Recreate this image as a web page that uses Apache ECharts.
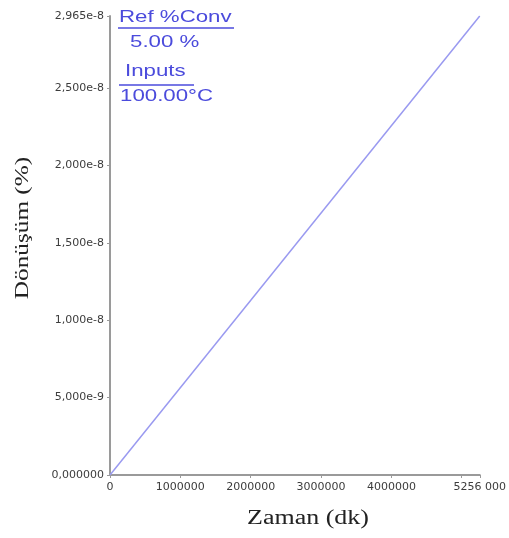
<!DOCTYPE html>
<html>
<head>
<meta charset="utf-8">
<script src="https://cdn.jsdelivr.net/npm/echarts@6/dist/echarts.min.js"></script>
<style>
  html, body { margin: 0; padding: 0; background: #fff; }
  #chart { width: 509px; height: 538px; }
</style>
</head>
<body>
<div id="chart"></div>
<script>
// Conversion vs. time at constant temperature
const timeMin = [0, 5256000];              // Zaman (dk)
const conversion = [0, 2.965e-8];          // Dönüşüm (%)
const xMax = 5256000;
const yMax = 2.965e-8;
const yTickLabels = ['0,000000', '5,000e-9', '1,000e-8', '1,500e-8', '2,000e-8', '2,500e-8'];
const yMaxLabel = '2,965e-8';
const xMaxLabel = '5256 000';
const xTitle = 'Zaman (dk)';
const yTitle = 'Dönüşüm (%)';
const refTitle = 'Ref %Conv';
const refValue = '5.00 %';
const inputTitle = 'Inputs';
const inputValue = '100.00°C';

const chart = echarts.init(document.getElementById('chart'), null, { renderer: 'canvas' });

const axisColor = '#9a9a9a';
const labelColor = '#3c3c3c';
const blue = '#4b4bdc';
const wide = 1.31;   // horizontal stretch of the lettering

function label(text, x, y, size) {
  return {
    type: 'text', x: x, y: y, scaleX: wide,
    style: { text: text, x: 0, y: 0, fontFamily: 'Liberation Sans', fontSize: size, fill: blue, verticalAlign: 'top' }
  };
}

chart.setOption({
  animation: false,
  grid: { left: 110, top: 16, right: 24, bottom: 63, containLabel: false },
  xAxis: {
    type: 'value',
    min: 0, max: xMax, interval: 1000000,
    axisLine: { show: true, lineStyle: { color: axisColor, width: 2 } },
    axisTick: { show: true, length: 3, lineStyle: { color: axisColor } },
    splitLine: { show: false },
    axisLabel: {
      fontFamily: 'DejaVu Sans', fontSize: 11, color: labelColor, margin: 7,
      showMaxLabel: true,
      formatter: function (v) {
        if (Math.abs(v - xMax) < 1) return xMaxLabel;
        if (v === 5000000) return '';
        return String(Math.round(v));
      }
    }
  },
  yAxis: {
    type: 'value',
    min: 0, max: yMax, interval: 5e-9,
    axisLine: { show: true, lineStyle: { color: axisColor, width: 2 } },
    axisTick: { show: true, length: 3, lineStyle: { color: axisColor } },
    splitLine: { show: false },
    axisLabel: {
      fontFamily: 'DejaVu Sans', fontSize: 11, color: labelColor, margin: 6,
      showMaxLabel: true,
      formatter: function (v) {
        if (Math.abs(v - yMax) < 1e-12) return yMaxLabel;
        const i = Math.round(v / 5e-9);
        return yTickLabels[i] !== undefined ? yTickLabels[i] : '';
      }
    }
  },
  series: [{
    type: 'line',
    data: timeMin.map((t, i) => [t, conversion[i]]),
    showSymbol: false,
    lineStyle: { color: '#9a9af0', width: 1.5 },
    z: 3
  }],
  graphic: [
    // axis titles
    {
      type: 'text', x: 308, y: 519, scaleX: 1.3,
      style: { text: xTitle, x: 0, y: 0, fontFamily: 'Liberation Serif', fontSize: 20, fill: '#222', align: 'center', verticalAlign: 'middle' }
    },
    {
      type: 'text', x: 23, y: 228, rotation: Math.PI / 2, scaleX: 1.33,
      style: { text: yTitle, x: 0, y: 0, fontFamily: 'Liberation Serif', fontSize: 19, fill: '#222', align: 'center', verticalAlign: 'middle' }
    },
    // reference / input annotation
    label(refTitle, 119, 9, 17),
    { type: 'line', shape: { x1: 118, y1: 28, x2: 234, y2: 28 }, style: { stroke: blue, lineWidth: 1.3 } },
    label(refValue, 130, 34, 17),
    label(inputTitle, 125, 63, 17),
    { type: 'line', shape: { x1: 119, y1: 85, x2: 194, y2: 85 }, style: { stroke: blue, lineWidth: 1.3 } },
    label(inputValue, 120, 88, 17)
  ]
});
</script>
</body>
</html>
